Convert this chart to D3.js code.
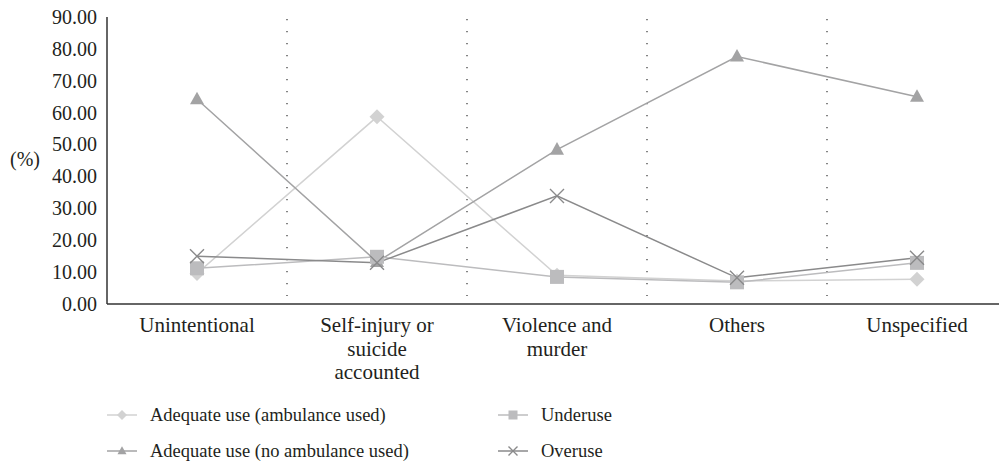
<!DOCTYPE html>
<html><head><meta charset="utf-8">
<script src="https://cdn.jsdelivr.net/npm/d3@7"></script>
</head>
<body style="margin:0;background:#fff">
<svg id="fig" width="999" height="466" style="font-family:'Liberation Serif','Times New Roman',Tinos,serif"></svg>
<script>
const categories = [["Unintentional"],["Self-injury or","suicide","accounted"],["Violence and","murder"],["Others"],["Unspecified"]];
const categoryKeys = ["Unintentional","Self-injury or suicide accounted","Violence and murder","Others","Unspecified"];
const yTicks = [0,10,20,30,40,50,60,70,80,90];
const seriesNames = ["Adequate use (ambulance used)","Adequate use (no ambulance used)","Underuse","Overuse"];
const adequateAmbulance = [9.6, 58.7, 9.0, 7.2, 7.8];
const adequateNoAmbulance = [64.2, 13.2, 48.4, 77.6, 65.0];
const underuse = [11.2, 14.8, 8.5, 6.8, 12.9];
const overuse = [15.0, 12.9, 33.9, 8.2, 14.5];
const seriesValues = [adequateAmbulance, adequateNoAmbulance, underuse, overuse];
const seriesColors = ["#d2d2d2","#a3a3a4","#bcbcbe","#8a8a8b"];
const seriesSymbols = ["diamond","triangle","square","cross"];

const FONT = "'Liberation Serif','Times New Roman',Tinos,serif";
const TXT = "#231f20";
const svg = d3.select("#fig");
const x = d3.scaleBand().domain(categoryKeys).range([107, 1007]);
const y = d3.scaleLinear().domain([0, 90]).range([304, 17]);
const cx = k => x(k) + x.bandwidth()/2;

// separators
svg.append("g").selectAll("line").data(categoryKeys.slice(1)).join("line")
  .attr("x1", d => x(d)).attr("x2", d => x(d))
  .attr("y1", 19).attr("y2", 296)
  .attr("stroke", "#333").attr("stroke-width", 1.2)
  .attr("stroke-dasharray", "1.2,10.8");

// y axis
const yAxis = svg.append("g").attr("transform", "translate(107,0)")
  .call(d3.axisLeft(y).tickValues(yTicks).tickFormat(d3.format(".2f")).tickSize(0).tickPadding(10));
yAxis.attr("font-family", null).attr("font-size", null);
yAxis.select(".domain").attr("stroke", "#333").attr("stroke-width", 1.5).attr("d", `M0,${y(90)}V${y(0)}`);
yAxis.selectAll("text").attr("font-family", "Liberation Serif").style("font-family", FONT).style("font-size", "20px").attr("fill", TXT);

// x axis
const xAxis = svg.append("g").attr("transform", "translate(0,304)")
  .call(d3.axisBottom(x).tickSize(0).tickFormat(() => ""));
xAxis.select(".domain").attr("stroke", "#333").attr("stroke-width", 1.5).attr("d", "M107,0H999");
xAxis.selectAll(".tick text").remove();
categoryKeys.forEach((k, i) => {
  const t = svg.append("text").attr("text-anchor", "middle")
    .attr("font-family", "Liberation Serif").style("font-family", FONT).style("font-size", "21px").attr("fill", TXT)
    .attr("x", cx(k)).attr("y", 332);
  categories[i].forEach((line, j) => {
    t.append("tspan").attr("x", cx(k)).attr("dy", j === 0 ? 0 : 23.5).text(line);
  });
});

svg.append("text").attr("x", 10).attr("y", 166)
  .attr("font-family", "Liberation Serif").style("font-family", FONT).style("font-size", "20px").attr("fill", TXT).text("(%)");

function drawSymbol(g, type, px, py, size, color) {
  if (type === "diamond") {
    const s = size/2;
    g.append("path").attr("d", `M${px},${py-s}L${px+s},${py}L${px},${py+s}L${px-s},${py}Z`).attr("fill", color);
  } else if (type === "triangle") {
    const h = size*0.9, w = size;
    g.append("path").attr("d", `M${px},${py-h*0.6}L${px+w/2},${py+h*0.4}L${px-w/2},${py+h*0.4}Z`).attr("fill", color);
  } else if (type === "square") {
    g.append("rect").attr("x", px-size/2).attr("y", py-size/2).attr("width", size).attr("height", size).attr("fill", color);
  } else {
    const s = size/2;
    g.append("path").attr("d", `M${px-s},${py-s}L${px+s},${py+s}M${px-s},${py+s}L${px+s},${py-s}`)
      .attr("stroke", color).attr("stroke-width", 1.4).attr("fill", "none");
  }
}

const line = d3.line().x((d, i) => cx(categoryKeys[i])).y(d => y(d));
seriesValues.forEach((vals, s) => {
  svg.append("path").attr("d", line(vals)).attr("fill", "none")
    .attr("stroke", seriesColors[s]).attr("stroke-width", 1.5);
});
seriesValues.forEach((vals, s) => {
  const g = svg.append("g");
  vals.forEach((v, i) => drawSymbol(g, seriesSymbols[s], cx(categoryKeys[i]), y(v), s === 0 ? 15 : 14, seriesColors[s]));
});

// legend
const legendPos = [[107,415],[107,451],[498,415],[498,451]];
seriesNames.forEach((name, s) => {
  const [lx, ly] = legendPos[s];
  const g = svg.append("g");
  g.append("line").attr("x1", lx).attr("x2", lx+30).attr("y1", ly).attr("y2", ly)
    .attr("stroke", seriesColors[s]).attr("stroke-width", 1.5);
  drawSymbol(g, seriesSymbols[s], lx+15, ly, s === 0 ? 10 : 9, seriesColors[s]);
  g.append("text").attr("x", lx+43).attr("y", ly+6)
    .attr("font-family", "Liberation Serif").style("font-family", FONT).style("font-size", "18.5px").attr("fill", TXT).text(name);
});
</script></body></html>
